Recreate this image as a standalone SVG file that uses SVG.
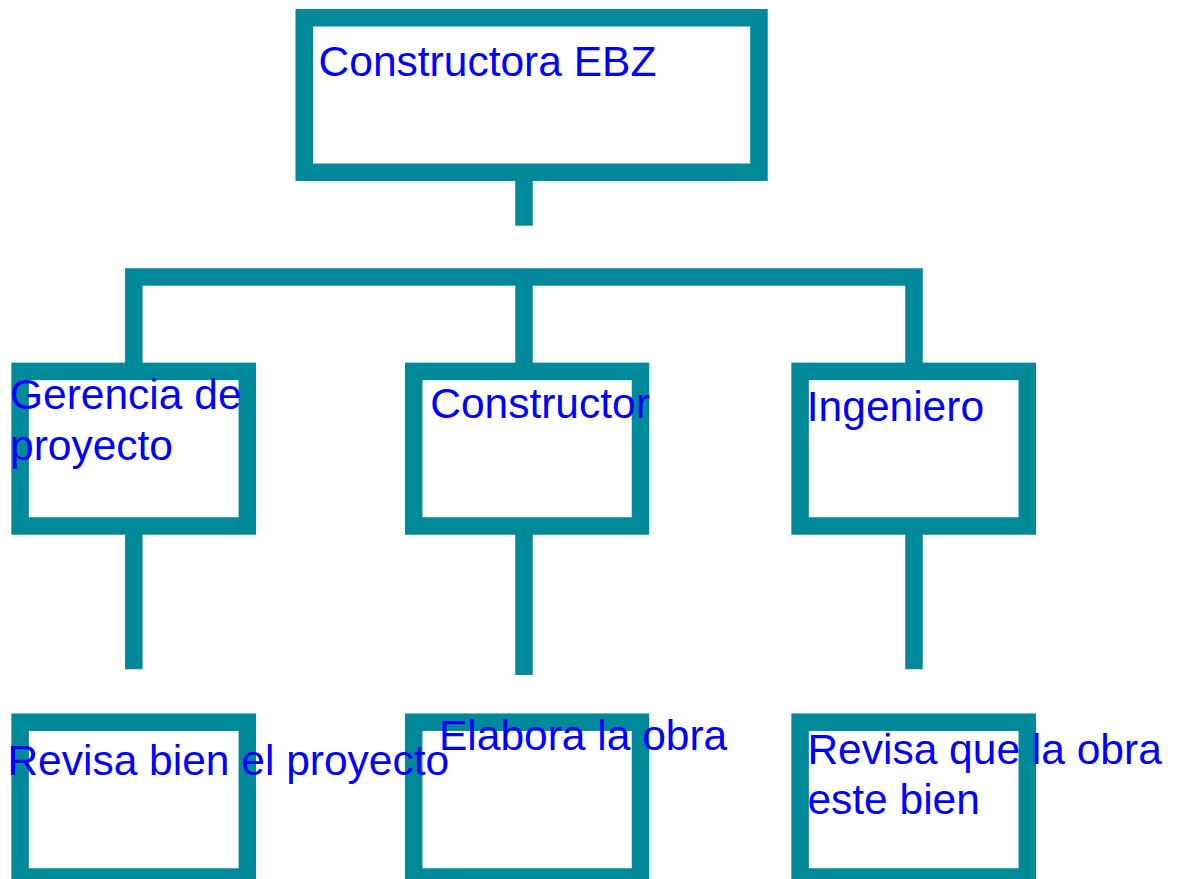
<svg xmlns="http://www.w3.org/2000/svg" width="1181" height="879" viewBox="0 0 1181 879">
<style>
.box{fill:#ffffff;stroke:#008A99;stroke-width:17.5}
.conn{fill:none;stroke:#008A99;stroke-width:17.5;stroke-linejoin:miter;stroke-linecap:butt}
.lbl{font-family:"Liberation Sans",Arial,sans-serif;font-size:42.5px;fill:#0000FF}
</style>
<rect width="1181" height="879" fill="#ffffff"/>
<g id="connectors">
<line class="conn" x1="524" y1="181" x2="524" y2="225.7"/>
<path class="conn" d="M133.8,363 V277 H914 V363"/>
<line class="conn" x1="524" y1="277" x2="524" y2="363"/>
<line class="conn" x1="133.8" y1="534" x2="133.8" y2="669.3"/>
<line class="conn" x1="524" y1="534" x2="524" y2="675"/>
<line class="conn" x1="914" y1="534" x2="914" y2="669.3"/>
</g>
<g id="node-top">
<rect class="box" x="304.25" y="17.75" width="454.7" height="154.5"/>
<text class="lbl" x="318.6" y="76">Constructora EBZ</text>
</g>
<g id="node-gerencia">
<rect class="box" x="20.1" y="371.4" width="227.2" height="154.6"/>
<text class="lbl" x="10" y="409.3">Gerencia de</text>
<text class="lbl" x="10" y="460">proyecto</text>
</g>
<g id="node-constructor">
<rect class="box" x="413.7" y="371.4" width="226.8" height="154.6"/>
<text class="lbl" x="430.2" y="418">Constructor</text>
</g>
<g id="node-ingeniero">
<rect class="box" x="800.1" y="371.4" width="227.2" height="154.6"/>
<text class="lbl" x="806.8" y="421.3">Ingeniero</text>
</g>
<g id="node-elabora">
<rect class="box" x="413.7" y="722.2" width="226.8" height="154.8"/>
<text class="lbl" x="439" y="750">Elabora la obra</text>
</g>
<g id="node-revisa-proyecto">
<rect class="box" x="20.1" y="722.2" width="227.2" height="154.8"/>
<text class="lbl" x="7.4" y="775">Revisa bien el proyecto</text>
</g>
<g id="node-revisa-obra">
<rect class="box" x="800.1" y="722.2" width="227.2" height="154.8"/>
<text class="lbl" x="807.4" y="764.3">Revisa que la obra</text>
<text class="lbl" x="807.4" y="814">este bien</text>
</g>
</svg>
